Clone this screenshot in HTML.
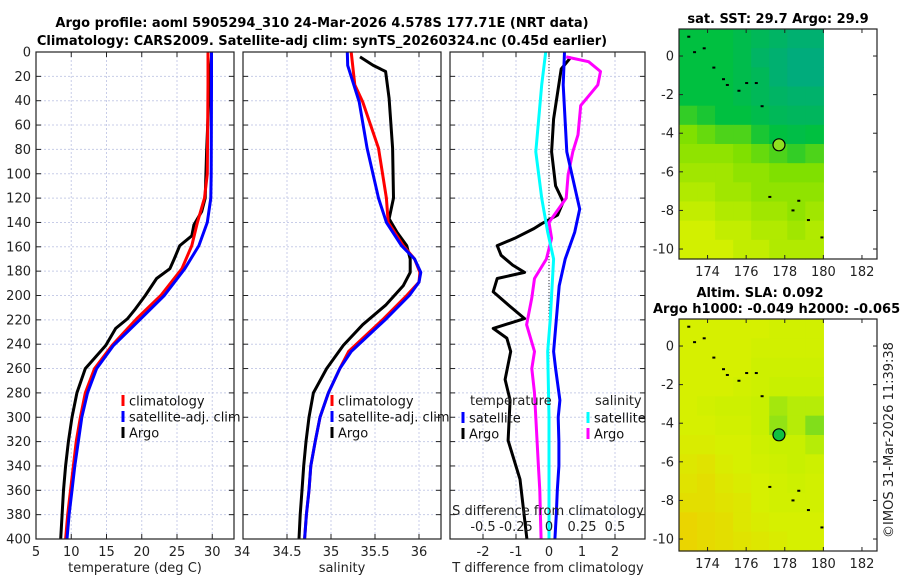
<!DOCTYPE html>
<html><head><meta charset="utf-8"><style>
html,body{margin:0;padding:0;background:#fff}
svg{display:block;font-family:"DejaVu Sans","Liberation Sans",sans-serif}
</style></head><body>
<svg id="fig" width="900" height="580" viewBox="0 0 900 580" xmlns="http://www.w3.org/2000/svg">
<g id="titles" font-weight="bold" font-size="13" fill="#000">
<text x="322" y="27" text-anchor="middle">Argo profile: aoml 5905294_310 24-Mar-2026 4.578S 177.71E (NRT data)</text>
<text x="322" y="45" text-anchor="middle">Climatology: CARS2009. Satellite-adj clim: synTS_20260324.nc (0.45d earlier)</text>
<text x="778" y="23" text-anchor="middle">sat. SST: 29.7 Argo: 29.9</text>
<text x="760" y="297" text-anchor="middle">Altim. SLA: 0.092</text>
<text x="653" y="313">Argo h1000: -0.049 h2000: -0.065</text>
</g>
<g id="p1"></g>
<g id="p2"></g>
<g id="p3"></g>
<g id="m1"></g>
<g id="m2"></g>
<text x="893" y="440" font-size="13" fill="#222" text-anchor="middle" transform="rotate(-90 893 440)">©IMOS 31-Mar-2026 11:39:38</text>
</svg>
<script>
// ---- data ----
const depthTicks=[0,20,40,60,80,100,120,140,160,180,200,220,240,260,280,300,320,340,360,380,400];
const tempTicks=[5,10,15,20,25,30];
const salTicks=[34,34.5,35,35.5,36];
const salTickLabels=["34","34.5","35","35.5","36"];
const tdiffTicks=[-2,-1,0,1,2];
const sdiffTicks=[-0.5,-0.25,0,0.25,0.5];
const sdiffTickLabels=["-0.5","-0.25","0","0.25","0.5"];

const climTDepth=[0,27,100,120,140,159,178,200,219,241,260,280,300,320,340,360,380,400];
const climT=[29.4,29.4,29.3,28.9,27.9,27.1,25.7,22.7,19.3,15.8,13.3,12.0,11.3,10.7,10.3,9.9,9.5,9.2];
const satTDepth=[0,27,100,120,140,159,178,200,219,241,260,280,300,320,340,360,380,400];
const satT=[29.9,29.9,29.85,29.8,29.3,28.1,26.1,23.2,19.9,16.0,13.6,12.3,11.5,11.0,10.5,10.1,9.7,9.4];
const argoTDepth=[4,40,82,120,131,142,151,159,170,178,186,200,211,219,227,241,260,280,300,320,340,360,380,400];
const argoT=[29.9,29.5,29.2,29.0,28.5,27.4,27.1,25.4,24.6,24.0,22.1,20.5,19.1,18.0,16.3,14.9,12.0,10.8,10.1,9.6,9.2,8.9,8.7,8.5];

const climSDepth=[0,27,41,79,120,140,159,170,181,189,200,219,246,260,280,300,320,340,360,380,400];
const climS=[35.23,35.27,35.36,35.54,35.63,35.65,35.82,35.95,36.01,36.0,35.86,35.6,35.2,35.1,34.97,34.875,34.82,34.77,34.75,34.72,34.70];
const satSDepth=[0,11,41,79,120,140,159,170,181,189,200,219,246,260,280,300,320,340,360,380,400];
const satS=[35.185,35.19,35.32,35.41,35.54,35.63,35.80,35.95,36.02,36.0,35.89,35.63,35.23,35.1,34.97,34.875,34.82,34.77,34.75,34.72,34.70];
const argoSDepth=[4,11,16,38,79,120,137,148,159,170,181,192,208,224,241,260,280,300,320,340,360,380,400];
const argoS=[35.33,35.48,35.62,35.66,35.70,35.71,35.66,35.75,35.86,35.90,35.90,35.82,35.62,35.36,35.14,34.95,34.80,34.75,34.716,34.69,34.67,34.65,34.636];

const dTsatDepth=[0,27,82,129,148,170,192,246,260,286,300,320,340,360,380,400];
const dTsat=[0.47,0.43,0.54,0.93,0.78,0.49,0.31,0.14,0.2,0.33,0.28,0.3,0.3,0.25,0.22,0.18];
const dSsatDepth=[0,27,82,120,148,170,219,246,300,350,400];
const dSsat=[-0.025,-0.055,-0.1,-0.055,-0.01,0.035,0.01,-0.01,0.0,0.0,0.0];
const dSargoDepth=[4,8,16,27,44,68,82,101,120,140,153,170,186,202,224,246,260,280,300,320,340,360,380,400];
const dSargo=[0.13,0.3,0.39,0.37,0.24,0.22,0.18,0.145,0.13,0.0,0.02,-0.02,-0.11,-0.13,-0.17,-0.11,-0.13,-0.11,-0.1,-0.09,-0.08,-0.07,-0.065,-0.06];
const dTargoDepth=[4,14,55,82,110,123,134,141,145,153,159,167,175,181,186,197,208,219,227,235,246,269,286,319,351,400];
const dTargo=[0.67,0.37,0.14,0.08,0.2,0.43,0.26,-0.22,-0.45,-1.04,-1.57,-1.45,-1.1,-0.74,-1.57,-1.69,-1.22,-0.74,-1.69,-1.28,-1.16,-1.33,-1.18,-1.24,-0.88,-0.67];

const lonTicks=[174,176,178,180,182];
const latTicks=[0,-2,-4,-6,-8,-10];
const sstGrid=[
[0.3,0.3,0.3,0.25,0.2,0.15,0.1,0.1],
[0.3,0.3,0.3,0.25,0.15,0.1,0.05,0.05],
[0.3,0.3,0.3,0.25,0.2,0.1,0.05,0.05],
[0.3,0.3,0.3,0.25,0.2,0.15,0.12,0.12],
[0.4,0.35,0.3,0.3,0.25,0.2,0.18,0.18],
[0.55,0.5,0.45,0.45,0.35,0.3,0.27,0.3],
[0.6,0.6,0.6,0.55,0.5,0.45,0.4,0.45],
[0.65,0.65,0.65,0.6,0.6,0.55,0.55,0.55],
[0.7,0.7,0.65,0.65,0.6,0.6,0.6,0.6],
[0.75,0.75,0.7,0.7,0.65,0.65,0.6,0.65],
[0.8,0.8,0.75,0.75,0.7,0.7,0.65,0.7],
[0.8,0.8,0.8,0.75,0.75,0.7,0.7,0.7]];
const slaGrid=[
[0.6,0.6,0.6,0.6,0.6,0.55,0.55,0.55],
[0.6,0.6,0.6,0.6,0.55,0.55,0.55,0.55],
[0.6,0.6,0.6,0.6,0.5,0.5,0.5,0.5],
[0.6,0.6,0.6,0.55,0.5,0.45,0.45,0.45],
[0.6,0.55,0.5,0.5,0.45,0.35,0.4,0.4],
[0.6,0.6,0.55,0.55,0.45,0.3,0.4,0.25],
[0.65,0.65,0.6,0.6,0.5,0.45,0.45,0.4],
[0.7,0.75,0.65,0.6,0.55,0.5,0.45,0.5],
[0.75,0.8,0.7,0.65,0.6,0.55,0.5,0.55],
[0.8,0.8,0.75,0.7,0.6,0.55,0.55,0.55],
[0.9,0.85,0.8,0.7,0.65,0.6,0.6,0.6],
[0.9,0.85,0.8,0.75,0.7,0.65,0.6,0.6]];
const argoLon=[177.7];
const argoLat=[-4.6];
const coastLon=[173.0,173.3,173.8,174.3,174.8,175.0,175.6,176.0,176.5,176.8,177.2,178.7,178.4,179.2,179.9];
const coastLat=[1.0,0.2,0.4,-0.6,-1.2,-1.5,-1.8,-1.4,-1.4,-2.6,-7.3,-7.5,-8.0,-8.5,-9.4];

// ---- helpers ----
const NS="http://www.w3.org/2000/svg";
function mk(parent,tag,attrs){const e=document.createElementNS(NS,tag);for(const k in attrs)e.setAttribute(k,attrs[k]);parent.appendChild(e);return e;}
const Y0=52,Y1=539;
const yD=d=>Y0+(Y1-Y0)*d/400;

function panel(g,x0,x1,xs,ticks,labels,showDepthLabels){
  const clipId=g.id+"clip";
  const cp=mk(g,"clipPath",{id:clipId});mk(cp,"rect",{x:x0,y:Y0,width:x1-x0,height:Y1-Y0});
  for(const d of depthTicks){const y=yD(d);
    const gl=mk(g,"line",{x1:x0,x2:x1,y1:y,y2:y,stroke:"#c8cde8","stroke-width":1,"stroke-dasharray":"2,2"});
    
    mk(g,"line",{x1:x0,x2:x0+5,y1:y,y2:y,stroke:"#222"});mk(g,"line",{x1:x1-5,x2:x1,y1:y,y2:y,stroke:"#222"});
    if(showDepthLabels){const t=mk(g,"text",{x:x0-5,y:y+4.5,"text-anchor":"end","font-size":13,fill:"#222"});t.textContent=d;
      }
  }
  ticks.forEach((v,i)=>{const x=xs(v);
    if(x>x0+1&&x<x1-1){const gl=mk(g,"line",{x1:x,x2:x,y1:Y0,y2:Y1,stroke:"#c8cde8","stroke-width":1,"stroke-dasharray":"2,2"});
      }
    mk(g,"line",{x1:x,x2:x,y1:Y1,y2:Y1-5,stroke:"#222"});mk(g,"line",{x1:x,x2:x,y1:Y0,y2:Y0+5,stroke:"#222"});
    if(labels){const t=mk(g,"text",{x:x,y:Y1+17,"text-anchor":"middle","font-size":13,fill:"#222"});t.textContent=labels[i];
      }
  });
  const inner=mk(g,"g",{"clip-path":"url(#"+clipId+")"});
  return inner;
}
function frame(g,x0,x1){const r=mk(g,"rect",{x:x0,y:Y0,width:x1-x0,height:Y1-Y0,fill:"none",stroke:"#222","stroke-width":1.2});
  }
function line(g,xs,vals,depths,color,w,name){
  const pts=vals.map((v,i)=>xs(v).toFixed(1)+","+yD(depths[i]).toFixed(1)).join(" ");
  const p=mk(g,"polyline",{points:pts,fill:"none",stroke:color,"stroke-width":w,"stroke-linejoin":"round"});
  
}
function legend(g,x,y,color,label,name){
  const r=mk(g,"rect",{x:x-1.5,y:y-6,width:3,height:11,fill:color});
  
  const t=mk(g,"text",{x:x+6,y:y+4.5,"font-size":13,fill:"#111"});t.textContent=label;
  
}
function label(g,x,y,txt,name,anchor){const t=mk(g,"text",{x:x,y:y,"text-anchor":anchor||"middle","font-size":13,fill:"#222"});t.textContent=txt;
  }

// ---- panel 1: temperature ----
const p1=document.getElementById("p1");
const xT=v=>36+(v-5)*7.05;
const i1=panel(p1,36,234,xT,tempTicks,tempTicks,true);
line(i1,xT,argoT,argoTDepth,"#000",3,"argo-temperature-line");
line(i1,xT,climT,climTDepth,"#f00",3,"climatology-temperature-line");
line(i1,xT,satT,satTDepth,"#00f",3,"satellite-temperature-line");
frame(p1,36,234);
label(p1,242,556,"34","x-tick-label-34-edge");
label(p1,135,572,"temperature (deg C)","temperature-axis-title");
legend(p1,123,401,"#f00","climatology","legend-climatology");
legend(p1,123,417,"#00f","satellite-adj. clim","legend-satellite-adj");
legend(p1,123,433,"#000","Argo","legend-argo");

// ---- panel 2: salinity ----
const p2=document.getElementById("p2");
const xS=v=>243+(v-34)*88;
const i2=panel(p2,243,441,xS,salTicks,null,false);
salTicks.forEach((v,i)=>{if(i>0)label(p2,xS(v),Y1+17,salTickLabels[i],"salinity-tick-label");});
line(i2,xS,argoS,argoSDepth,"#000",3,"argo-salinity-line");
line(i2,xS,climS,climSDepth,"#f00",3,"climatology-salinity-line");
line(i2,xS,satS,satSDepth,"#00f",3,"satellite-salinity-line");
frame(p2,243,441);
label(p2,342,572,"salinity","salinity-axis-title");
legend(p2,332,401,"#f00","climatology","legend-climatology-2");
legend(p2,332,417,"#00f","satellite-adj. clim","legend-satellite-adj-2");
legend(p2,332,433,"#000","Argo","legend-argo-2");

// ---- panel 3: differences ----
const p3=document.getElementById("p3");
const xdT=v=>549+v*33;
const xdS=v=>549+v*132;
const i3=panel(p3,450,645,xdT,tdiffTicks,tdiffTicks,false);
const zl=mk(i3,"line",{x1:549,x2:549,y1:Y0,y2:Y1,stroke:"#333","stroke-width":1,"stroke-dasharray":"1,2"});

line(i3,xdT,dTargo,dTargoDepth,"#000",3,"argo-temperature-diff-line");
line(i3,xdS,dSargo,dSargoDepth,"#f0f",3,"argo-salinity-diff-line");
line(i3,xdS,dSsat,dSsatDepth,"#0ff",3,"satellite-salinity-diff-line");
line(i3,xdT,dTsat,dTsatDepth,"#00f",3,"satellite-temperature-diff-line");
frame(p3,450,645);
sdiffTicks.forEach((v,i)=>label(p3,xdS(v),531,sdiffTickLabels[i],"s-diff-tick-label"));
label(p3,548,515,"S difference from climatology","s-diff-axis-title");
label(p3,548,572,"T difference from climatology","t-diff-axis-title");
label(p3,470,405,"temperature","legend-temperature-heading","start");
label(p3,595,405,"salinity","legend-salinity-heading","start");
legend(p3,463,418,"#00f","satellite","legend-t-satellite");
legend(p3,463,434,"#000","Argo","legend-t-argo");
legend(p3,588,418,"#0ff","satellite","legend-s-satellite");
legend(p3,588,434,"#f0f","Argo","legend-s-argo");

// ---- maps ----
function lerpColor(stops,v){
  for(let i=1;i<stops.length;i++){if(v<=stops[i][0]||i==stops.length-1){const a=stops[i-1],b=stops[i];
    const t=Math.max(0,Math.min(1,(v-a[0])/(b[0]-a[0])));
    return "rgb("+[1,2,3].map(k=>Math.round(a[k]+(b[k]-a[k])*t)).join(",")+")";}}
}
const sstStops=[[0,0,168,136],[0.3,0,192,64],[0.55,128,224,0],[0.8,210,240,0]];
const slaStops=[[0,40,200,60],[0.45,200,240,0],[0.6,214,240,0],[1,240,204,0]];
function map(g,top,bottom,grid,stops,dotColor){
  const x0=679,x1=877,lon0=172.52,lat0=1.4,ppd=19.3;
  const xL=l=>x0+(l-lon0)*ppd, yL=l=>top+(lat0-l)*ppd;
  const cw=(xL(180)-x0)/grid[0].length, ch=(bottom-top)/grid.length;
  grid.forEach((row,r)=>row.forEach((v,c)=>{
    const rc=mk(g,"rect",{x:(x0+c*cw).toFixed(2),y:(top+r*ch).toFixed(2),width:(cw+0.6).toFixed(2),height:(ch+0.6).toFixed(2),fill:lerpColor(stops,v)});
    
  }));
  coastLon.forEach((l,i)=>{const d=mk(g,"rect",{x:xL(l)-1,y:yL(coastLat[i])-1,width:3,height:2,fill:"#000"});
    });
  argoLon.forEach((l,i)=>{const c=mk(g,"ellipse",{cx:xL(l),cy:yL(argoLat[i]),rx:6,ry:6,fill:dotColor,stroke:"#000","stroke-width":1.2});
    });
  const fr=mk(g,"rect",{x:x0,y:top,width:x1-x0,height:bottom-top,fill:"none",stroke:"#222","stroke-width":1.2});
  
  lonTicks.forEach(l=>{const x=xL(l);mk(g,"line",{x1:x,x2:x,y1:bottom,y2:bottom-4,stroke:"#222"});mk(g,"line",{x1:x,x2:x,y1:top,y2:top+4,stroke:"#222"});
    label(g,x,bottom+17,String(l),"longitude-tick-label");});
  latTicks.forEach(l=>{const y=yL(l);mk(g,"line",{x1:x0,x2:x0+4,y1:y,y2:y,stroke:"#222"});mk(g,"line",{x1:x1-4,x2:x1,y1:y,y2:y,stroke:"#222"});
    label(g,x0-5,y+4.5,String(l),"latitude-tick-label","end");});
}
map(document.getElementById("m1"),29,259,sstGrid,sstStops,"#90e020");
map(document.getElementById("m2"),319,551,slaGrid,slaStops,"#10c040");
</script>
</body></html>
